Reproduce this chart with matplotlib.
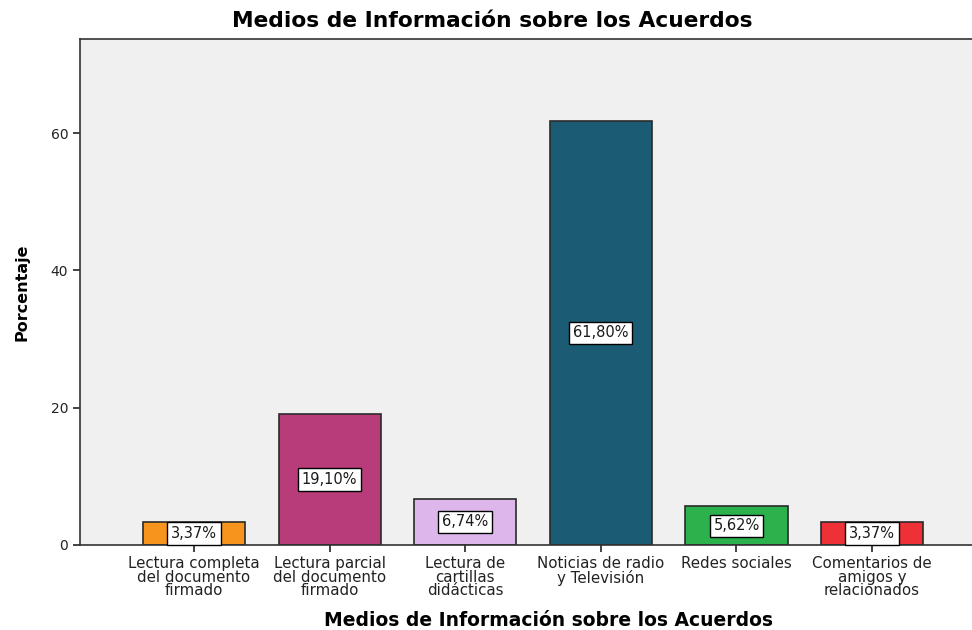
import matplotlib
matplotlib.use('Agg')
import matplotlib.pyplot as plt

categories = [
    'Lectura completa\ndel documento\nfirmado',
    'Lectura parcial\ndel documento\nfirmado',
    'Lectura de\ncartillas\ndidácticas',
    'Noticias de radio\ny Televisión',
    'Redes sociales',
    'Comentarios de\namigos y\nrelacionados',
]
percentages = [3.37, 19.10, 6.74, 61.80, 5.62, 3.37]
value_labels = ['3,37%', '19,10%', '6,74%', '61,80%', '5,62%', '3,37%']
bar_colors = ['#F7941D', '#B83C7A', '#DDB7EC', '#1C5B74', '#2BB24C', '#EE3136']
y_ticks = [0, 20, 40, 60]

plt.rcParams['font.family'] = ['DejaVu Sans']

W, H = 972, 630
fig = plt.figure(figsize=(W / 100, H / 100), dpi=100)
fig.patch.set_facecolor('white')

# axes box in pixel coords: left 80, right ~986 (cut off), top 39, bottom 545
ax = fig.add_axes([80 / W, (H - 545) / H, 906 / W, (545 - 39) / H])
ax.set_facecolor('#F0F0F0')

x = list(range(len(categories)))
ax.bar(x, percentages, width=0.753, color=bar_colors, edgecolor='#2a2a2a', linewidth=1.2, zorder=2)

for xi, v, lab in zip(x, percentages, value_labels):
    ax.text(xi, v / 2, lab, ha='center', va='center', fontsize=10.5, color='#1a1a1a', zorder=3,
            bbox=dict(boxstyle='square,pad=0.25', facecolor='white', edgecolor='black', linewidth=1))

ax.set_xlim(-0.841, 5.84)
ax.set_ylim(0, 73.7)
ax.set_yticks(y_ticks)
ax.set_yticklabels([str(t) for t in y_ticks], fontsize=10, color='#222222')
ax.set_xticks(x)
ax.set_xticklabels(categories, fontsize=10.8, color='#222222', linespacing=0.88)
ax.tick_params(axis='both', length=5, width=1.2, color='#222222')
ax.tick_params(axis='x', pad=3)

for side in ['left', 'bottom', 'top']:
    ax.spines[side].set_color('#333333')
    ax.spines[side].set_linewidth(1.2)
ax.spines['right'].set_visible(False)

ax.set_ylabel('Porcentaje', fontsize=11.5, fontweight='bold', labelpad=15)
fig.text(548 / W, 1 - 621 / H, 'Medios de Información sobre los Acuerdos', ha='center', va='center',
         fontsize=13.5, fontweight='bold')
fig.text(492 / W, 1 - 21 / H, 'Medios de Información sobre los Acuerdos', ha='center', va='center',
         fontsize=15.7, fontweight='bold')

fig.savefig('out.png', dpi=100)
plt.close()
